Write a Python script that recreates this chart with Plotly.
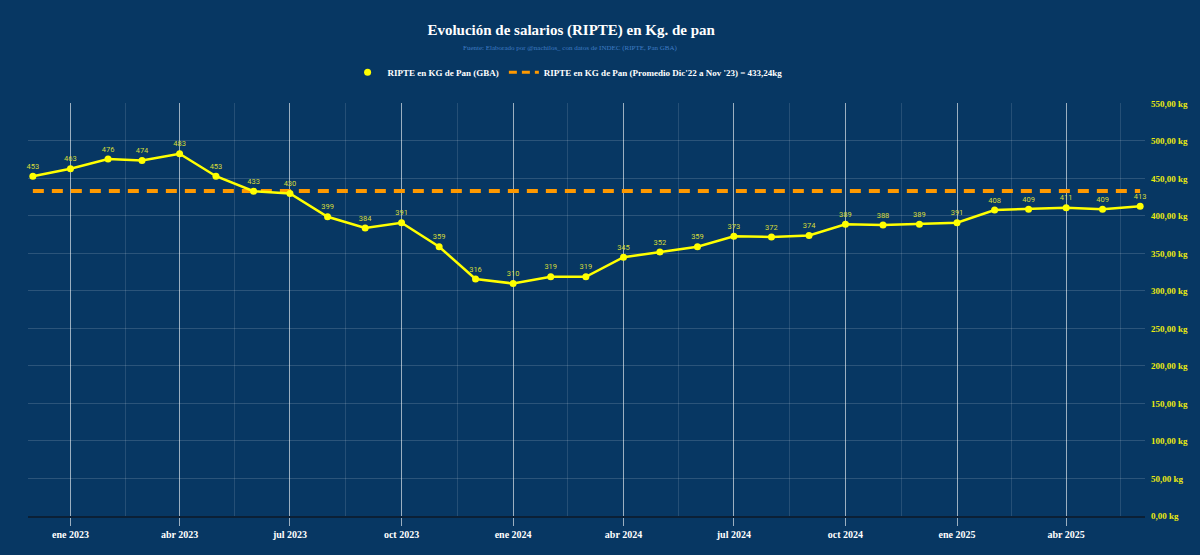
import plotly.graph_objects as go
import pandas as pd

# ---- data ----
months = ["2022-12-01", "2023-01-01", "2023-02-01", "2023-03-01", "2023-04-01", "2023-05-01",
          "2023-06-01", "2023-07-01", "2023-08-01", "2023-09-01", "2023-10-01", "2023-11-01",
          "2023-12-01", "2024-01-01", "2024-02-01", "2024-03-01", "2024-04-01", "2024-05-01",
          "2024-06-01", "2024-07-01", "2024-08-01", "2024-09-01", "2024-10-01", "2024-11-01",
          "2024-12-01", "2025-01-01", "2025-02-01", "2025-03-01", "2025-04-01", "2025-05-01",
          "2025-06-01"]
ripte_kg_pan = [453, 463, 476, 474, 483, 453, 433, 430, 399, 384, 391, 359,
                316, 310, 319, 319, 345, 352, 359, 373, 372, 374, 389, 388,
                389, 391, 408, 409, 411, 409, 413]
promedio = 433.24

x_tick_vals = ["2023-01-01", "2023-04-01", "2023-07-01", "2023-10-01", "2024-01-01",
               "2024-04-01", "2024-07-01", "2024-10-01", "2025-01-01", "2025-04-01"]
x_tick_text = ["ene 2023", "abr 2023", "jul 2023", "oct 2023", "ene 2024",
               "abr 2024", "jul 2024", "oct 2024", "ene 2025", "abr 2025"]
y_tick_vals = [0, 50, 100, 150, 200, 250, 300, 350, 400, 450, 500, 550]
y_tick_text = ["0,00 kg", "50,00 kg", "100,00 kg", "150,00 kg", "200,00 kg", "250,00 kg",
               "300,00 kg", "350,00 kg", "400,00 kg", "450,00 kg", "500,00 kg", "550,00 kg"]

title_text = "Evolución de salarios (RIPTE) en Kg. de pan"
subtitle_text = "Fuente: Elaborado por @nachilos_ con datos de INDEC (RIPTE, Pan GBA)"
name_main = "RIPTE en KG de Pan (GBA)"
name_avg = "RIPTE en KG de Pan (Promedio Dic'22 a Nov '23) = 433,24kg"

# minor gridlines at mid-quarter
qs = pd.to_datetime(["2022-10-01"] + x_tick_vals + ["2025-07-01"])
minor_vals = [(qs[i] + (qs[i + 1] - qs[i]) / 2).strftime("%Y-%m-%d") for i in range(len(qs) - 1)]

BG = "#073763"
SERIF = "Liberation Serif"
W, H = 1200, 555
M = dict(l=28, r=53, t=98, b=39)

fig = go.Figure()

fig.add_trace(go.Scatter(
    x=months, y=[promedio] * len(months), mode="lines", name=name_avg,
    line=dict(color="#FF9900", width=4, dash="11px,8px"),
    hoverinfo="skip", showlegend=False,
))
fig.add_trace(go.Scatter(
    x=months, y=ripte_kg_pan, mode="lines+markers+text", name=name_main,
    line=dict(color="#FFFF00", width=2.5),
    marker=dict(color="#FFFF00", size=7),
    text=[str(v) for v in ripte_kg_pan], textposition="top center",
    textfont=dict(family="Roboto", size=7.5, color="#d6dc3a"),
    cliponaxis=False,
    showlegend=False,
))
# legend entries
fig.add_trace(go.Scatter(
    x=[None], y=[None], mode="markers", name=name_main,
    marker=dict(color="#FFFF00", size=7),
))
fig.add_trace(go.Scatter(
    x=[None], y=[None], mode="lines", name=name_avg,
    line=dict(color="#FF9900", width=3, dash="8px,5px"),
))

plot_h = H - M["t"] - M["b"]
sub_y = (H - 42 - M["b"]) / plot_h

fig.update_layout(
    width=W, height=H,
    paper_bgcolor=BG, plot_bgcolor=BG,
    margin=M,
    title=dict(
        text="<b>" + title_text + "</b>",
        x=0.476, xanchor="center", xref="container",
        y=1 - 30 / H, yanchor="middle",
        font=dict(family=SERIF, size=15, color="#ffffff"),
    ),
    annotations=[dict(
        text=subtitle_text, showarrow=False,
        xref="paper", yref="paper",
        x=(571 - M["l"]) / (W - M["l"] - M["r"]), y=sub_y,
        xanchor="center", yanchor="middle",
        font=dict(family=SERIF, size=7, color="#3f7cc4"),
    )],
    legend=dict(
        orientation="h", x=0.473, xanchor="center", xref="container",
        y=0.87, yanchor="middle", yref="container",
        font=dict(family=SERIF, size=9, color="#ffffff", weight="bold"),
        bgcolor="rgba(0,0,0,0)", itemwidth=30,
    ),
    showlegend=True,
    xaxis=dict(
        type="date",
        range=["2022-11-27", "2025-06-05"],
        tickmode="array", tickvals=x_tick_vals, ticktext=x_tick_text,
        tickfont=dict(family=SERIF, size=10, color="#ffffff", weight="bold"),
        showgrid=True, gridcolor="rgba(255,255,255,0.6)", gridwidth=1,
        ticks="outside", ticklen=8, tickcolor="rgba(255,255,255,0.6)",
        showline=True, linecolor="#0b2036", linewidth=1.5,
        zeroline=False,
        minor=dict(tickmode="array", tickvals=minor_vals, showgrid=True,
                   gridcolor="rgba(255,255,255,0.12)", gridwidth=1, ticks=""),
    ),
    yaxis=dict(
        side="right", range=[0, 550],
        tickmode="array", tickvals=y_tick_vals, ticktext=y_tick_text,
        tickfont=dict(family=SERIF, size=9, color="#eaea10", weight="bold"),
        ticklabelstandoff=5,
        showgrid=True, gridcolor="rgba(255,255,255,0.15)", gridwidth=1,
        zeroline=False, showline=False, ticks="",
    ),
)

fig.write_html(
    "out.html",
    config={"displayModeBar": False},
    post_script="document.body.style.margin='0';document.body.style.overflow='hidden';",
)
